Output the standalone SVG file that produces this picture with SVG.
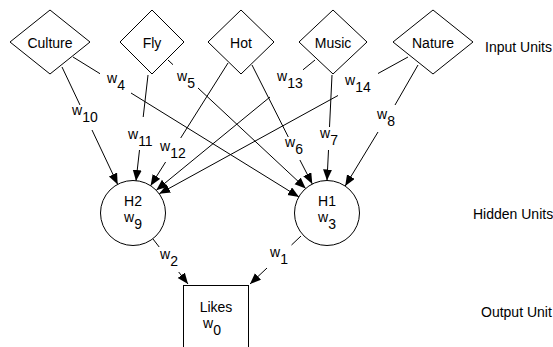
<svg xmlns="http://www.w3.org/2000/svg" width="553" height="347" viewBox="0 0 553 347">
  <defs>
    <style>
      .node { fill: #fff; stroke: #000; stroke-width: 1; }
      .edge { fill: none; stroke: #000; stroke-width: 1; }
      text { font-family: "Liberation Sans", Arial, sans-serif; font-size: 14px; fill: #000; }
      .mid { text-anchor: middle; }
    </style>
    <marker id="arrow" markerUnits="userSpaceOnUse" markerWidth="12" markerHeight="10" refX="11" refY="4.5" orient="auto">
      <path d="M0,0 L11,4.5 L0,9 z" fill="#000"/>
    </marker>
  </defs>

  <rect width="553" height="347" fill="#fff"/>

  <!-- connectors: each weight label breaks its line in two -->
  <g id="connectors">
    <!-- Culture -> H2 (w10) -->
    <line class="edge" x1="62" y1="67" x2="80" y2="105"/>
    <line class="edge" x1="92" y1="130" x2="117.7" y2="184.4" marker-end="url(#arrow)"/>
    <!-- Culture -> H1 (w4) -->
    <line class="edge" x1="73" y1="57" x2="100" y2="73.7"/>
    <line class="edge" x1="131" y1="93" x2="299" y2="197" marker-end="url(#arrow)"/>
    <!-- Fly -> H2 (w11) -->
    <line class="edge" x1="148" y1="75" x2="143.2" y2="117"/>
    <line class="edge" x1="139.5" y1="150" x2="136" y2="181" marker-end="url(#arrow)"/>
    <!-- Fly -> H1 (w5) -->
    <line class="edge" x1="168" y1="60" x2="173" y2="64.7"/>
    <line class="edge" x1="198" y1="88" x2="305.7" y2="188.4" marker-end="url(#arrow)"/>
    <!-- Hot -> H2 (w12) -->
    <line class="edge" x1="228" y1="63" x2="180.7" y2="138"/>
    <line class="edge" x1="165.6" y1="162" x2="150.6" y2="185.8" marker-end="url(#arrow)"/>
    <!-- Hot -> H1 (w6) -->
    <line class="edge" x1="252" y1="65" x2="288.3" y2="137"/>
    <line class="edge" x1="299.9" y1="160" x2="312.3" y2="184" marker-end="url(#arrow)"/>
    <!-- Music -> H2 (w13) -->
    <line class="edge" x1="315" y1="60" x2="303" y2="69.8"/>
    <line class="edge" x1="270" y1="97" x2="156.3" y2="190.2" marker-end="url(#arrow)"/>
    <!-- Music -> H1 (w7) -->
    <line class="edge" x1="332" y1="75" x2="329.5" y2="127"/>
    <line class="edge" x1="328.5" y1="150" x2="327" y2="180.5" marker-end="url(#arrow)"/>
    <!-- Nature -> H2 (w14) -->
    <line class="edge" x1="408" y1="57" x2="378" y2="73.5"/>
    <line class="edge" x1="338" y1="95.5" x2="159.2" y2="193.8" marker-end="url(#arrow)"/>
    <!-- Nature -> H1 (w8) -->
    <line class="edge" x1="418" y1="65" x2="395" y2="105"/>
    <line class="edge" x1="378" y1="132" x2="345.2" y2="186" marker-end="url(#arrow)"/>
    <!-- H2 -> Likes (w2) -->
    <line class="edge" x1="153" y1="239" x2="159.2" y2="247"/>
    <line class="edge" x1="178.7" y1="272" x2="188" y2="284" marker-end="url(#arrow)"/>
    <!-- H1 -> Likes (w1) -->
    <line class="edge" x1="301" y1="236" x2="291.5" y2="245"/>
    <line class="edge" x1="267" y1="268" x2="250" y2="284" marker-end="url(#arrow)"/>
  </g>

  <!-- weight labels -->
  <g id="weights">
    <text x="72" y="115">w<tspan dy="7">10</tspan></text>
    <text x="107" y="83">w<tspan dy="7">4</tspan></text>
    <text x="128" y="139">w<tspan dy="7">11</tspan></text>
    <text x="177" y="81">w<tspan dy="7">5</tspan></text>
    <text x="160" y="151">w<tspan dy="7">12</tspan></text>
    <text x="285" y="147">w<tspan dy="7">6</tspan></text>
    <text x="277" y="81">w<tspan dy="7">13</tspan></text>
    <text x="320" y="138">w<tspan dy="7">7</tspan></text>
    <text x="345" y="85">w<tspan dy="7">14</tspan></text>
    <text x="377" y="119">w<tspan dy="7">8</tspan></text>
    <text x="160" y="259">w<tspan dy="7">2</tspan></text>
    <text x="270" y="257">w<tspan dy="7">1</tspan></text>
  </g>

  <!-- input units -->
  <g id="culture">
    <polygon class="node" points="10,42 50,10 90,42 50,74"/>
    <text class="mid" x="50" y="48">Culture</text>
  </g>
  <g id="fly">
    <polygon class="node" points="120,42 152,10 184,42 152,74"/>
    <text class="mid" x="152" y="48">Fly</text>
  </g>
  <g id="hot">
    <polygon class="node" points="208,42 241,10 274,42 241,74"/>
    <text class="mid" x="241" y="48">Hot</text>
  </g>
  <g id="music">
    <polygon class="node" points="299,42 333,10 367,42 333,74"/>
    <text class="mid" x="333" y="48">Music</text>
  </g>
  <g id="nature">
    <polygon class="node" points="393,42 433,10 473,42 433,74"/>
    <text class="mid" x="433" y="48">Nature</text>
  </g>

  <!-- hidden units -->
  <g id="h2">
    <circle class="node" cx="133" cy="213" r="32.5"/>
    <text class="mid" x="133" y="206">H2</text>
    <text x="124" y="222">w<tspan dy="7">9</tspan></text>
  </g>
  <g id="h1">
    <circle class="node" cx="327" cy="213" r="32.5"/>
    <text class="mid" x="327" y="206">H1</text>
    <text x="318" y="222">w<tspan dy="7">3</tspan></text>
  </g>

  <!-- output unit -->
  <g id="likes">
    <rect class="node" x="183.5" y="285.5" width="65" height="80"/>
    <text class="mid" x="216" y="312">Likes</text>
    <text x="203" y="328">w<tspan dy="7">0</tspan></text>
  </g>

  <!-- layer captions -->
  <g id="captions">
    <text x="485" y="52">Input Units</text>
    <text x="473" y="219">Hidden Units</text>
    <text x="481" y="317">Output Unit</text>
  </g>
</svg>
